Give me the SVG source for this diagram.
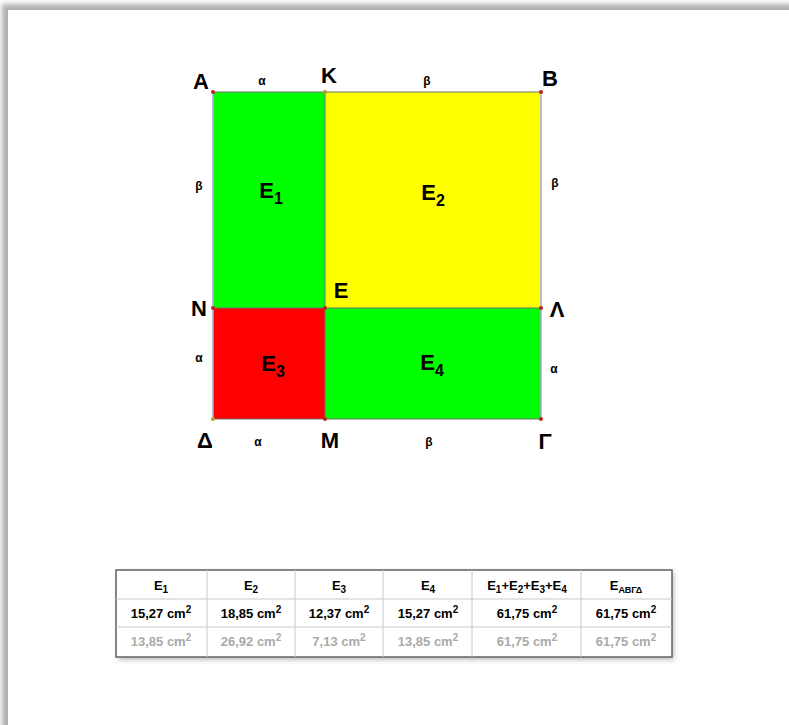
<svg xmlns="http://www.w3.org/2000/svg" width="789" height="725" viewBox="0 0 789 725">
<defs>
<filter id="sh" x="-5%" y="-5%" width="110%" height="110%"><feGaussianBlur stdDeviation="2.5"/></filter>
<style>
text{font-family:"Liberation Sans",Arial,sans-serif;font-weight:bold;fill:#000}
.pt{font-size:22px;text-anchor:middle}
.sm{font-size:12px;text-anchor:middle}
.E{font-size:22px;text-anchor:middle}
.t{font-size:13px;text-anchor:middle}
.g{fill:#aaaaaa}
.edge{stroke:#a8a8e0;stroke-width:1.5;fill:none}
.in{stroke:#707070;stroke-width:1;fill:none}
.grid{stroke:#c8c8c8;stroke-width:1;fill:none}
</style>
</defs>
<rect width="789" height="725" fill="#fff"/>
<rect x="2" y="4" width="820" height="760" fill="#b0b0b0" filter="url(#sh)"/>
<rect x="8" y="10" width="800" height="760" fill="#fff"/>

<g id="E1"><rect x="213" y="92" width="112" height="216" fill="#00ff00"/><text class="E" x="271" y="198">E<tspan font-size="16" dy="6">1</tspan></text></g>
<g id="E2"><rect x="325" y="92" width="216" height="216" fill="#ffff00"/><text class="E" x="433" y="200">E<tspan font-size="16" dy="6">2</tspan></text></g>
<g id="E3"><rect x="213" y="308" width="112" height="111" fill="#ff0000"/><text class="E" x="273" y="371">E<tspan font-size="16" dy="6">3</tspan></text></g>
<g id="E4"><rect x="325" y="308" width="216" height="111" fill="#00ff00"/><text class="E" x="432" y="370">E<tspan font-size="16" dy="6">4</tspan></text></g>

<g id="connectors">
<line class="edge" x1="213" y1="92" x2="213" y2="419"/>
<line class="edge" x1="541" y1="92" x2="541" y2="419"/>
<line class="in" x1="213" y1="92" x2="541" y2="92"/>
<line class="in" x1="213" y1="419" x2="541" y2="419" stroke="#8888bb"/>
<line class="in" x1="325" y1="92" x2="325" y2="419"/>
<line class="in" x1="213" y1="308" x2="541" y2="308" stroke="#a04040"/>
</g>

<g id="points" fill="#c02020">
<circle cx="213" cy="92" r="2"/><circle cx="325" cy="92" r="2" fill="#b0a020"/><circle cx="541" cy="92" r="2"/>
<circle cx="213" cy="308" r="2"/><circle cx="325" cy="308" r="2"/><circle cx="541" cy="308" r="2"/>
<circle cx="213" cy="419" r="2" fill="#b0a020"/><circle cx="325" cy="419" r="2"/><circle cx="541" cy="419" r="2"/>
</g>

<g id="labels">
<text class="pt" x="201" y="89">Α</text>
<text class="pt" x="329" y="83">Κ</text>
<text class="pt" x="550" y="86">Β</text>
<text class="pt" x="199" y="316">Ν</text>
<text class="pt" x="341" y="298">Ε</text>
<text class="pt" x="557" y="317">Λ</text>
<text class="pt" x="205" y="448">Δ</text>
<text class="pt" x="330" y="448">Μ</text>
<text class="pt" x="545" y="449">Γ</text>
<text class="sm" x="262" y="85">α</text>
<text class="sm" x="427" y="85">β</text>
<text class="sm" x="199" y="190">β</text>
<text class="sm" x="555" y="187">β</text>
<text class="sm" x="199" y="362">α</text>
<text class="sm" x="554" y="373">α</text>
<text class="sm" x="258" y="446">α</text>
<text class="sm" x="429" y="446">β</text>
</g>

<g id="table">
<rect x="118" y="572" width="556" height="88" fill="#c0c0c0" filter="url(#sh)"/>
<rect x="116" y="570" width="556" height="87" fill="#fff" stroke="#606060" stroke-width="1.5"/>
<line class="grid" x1="116" y1="599" x2="672" y2="599" stroke="#999"/>
<line class="grid" x1="116" y1="627" x2="672" y2="627"/>
<line class="grid" x1="207" y1="570" x2="207" y2="657"/>
<line class="grid" x1="295" y1="570" x2="295" y2="657"/>
<line class="grid" x1="383" y1="570" x2="383" y2="657"/>
<line class="grid" x1="472" y1="570" x2="472" y2="657"/>
<line class="grid" x1="581" y1="570" x2="581" y2="657"/>
<text class="t" x="161" y="590">E<tspan font-size="10" dy="3">1</tspan></text>
<text class="t" x="251" y="590">E<tspan font-size="10" dy="3">2</tspan></text>
<text class="t" x="339" y="590">E<tspan font-size="10" dy="3">3</tspan></text>
<text class="t" x="428" y="590">E<tspan font-size="10" dy="3">4</tspan></text>
<text class="t" x="527" y="590">E<tspan font-size="10" dy="3">1</tspan><tspan dy="-3">+E</tspan><tspan font-size="10" dy="3">2</tspan><tspan dy="-3">+E</tspan><tspan font-size="10" dy="3">3</tspan><tspan dy="-3">+E</tspan><tspan font-size="10" dy="3">4</tspan></text>
<text class="t" x="626" y="590">E<tspan font-size="9" dy="3">ΑΒΓΔ</tspan></text>
<text class="t" x="161" y="618">15,27 cm<tspan font-size="10" dy="-5">2</tspan></text>
<text class="t" x="251" y="618">18,85 cm<tspan font-size="10" dy="-5">2</tspan></text>
<text class="t" x="339" y="618">12,37 cm<tspan font-size="10" dy="-5">2</tspan></text>
<text class="t" x="428" y="618">15,27 cm<tspan font-size="10" dy="-5">2</tspan></text>
<text class="t" x="527" y="618">61,75 cm<tspan font-size="10" dy="-5">2</tspan></text>
<text class="t" x="626" y="618">61,75 cm<tspan font-size="10" dy="-5">2</tspan></text>
<text class="t g" x="161" y="646">13,85 cm<tspan font-size="10" dy="-5">2</tspan></text>
<text class="t g" x="251" y="646">26,92 cm<tspan font-size="10" dy="-5">2</tspan></text>
<text class="t g" x="339" y="646">7,13 cm<tspan font-size="10" dy="-5">2</tspan></text>
<text class="t g" x="428" y="646">13,85 cm<tspan font-size="10" dy="-5">2</tspan></text>
<text class="t g" x="527" y="646">61,75 cm<tspan font-size="10" dy="-5">2</tspan></text>
<text class="t g" x="626" y="646">61,75 cm<tspan font-size="10" dy="-5">2</tspan></text>
</g>
</svg>
